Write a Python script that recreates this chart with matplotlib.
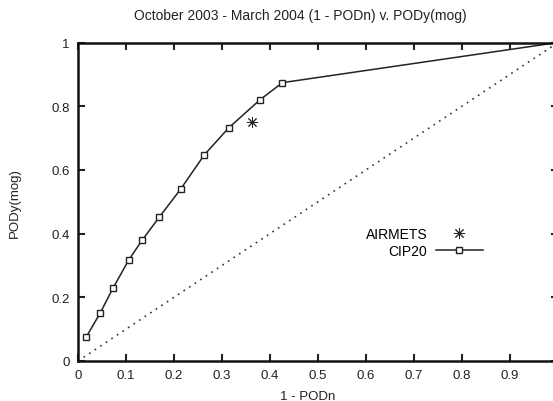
import matplotlib
matplotlib.use("Agg")
import matplotlib.pyplot as plt

plt.rcParams['font.family'] = ['Liberation Sans', 'DejaVu Sans']

# CIP20 curve (1 - PODn, PODy(mog))
cip20_x = [0.017, 0.046, 0.073, 0.106, 0.134, 0.169, 0.214, 0.263, 0.314, 0.379, 0.426, 1.0]
cip20_y = [0.075, 0.150, 0.229, 0.318, 0.380, 0.451, 0.540, 0.647, 0.732, 0.820, 0.874, 1.0]

# AIRMETS single point
airmets_x = [0.363]
airmets_y = [0.751]

# no-skill diagonal
diag = [0, 1]

x_ticks = [0, 0.1, 0.2, 0.3, 0.4, 0.5, 0.6, 0.7, 0.8, 0.9, 1.0]
# the "1" label sits past the picture's right edge in the reference
x_tick_labels = ['0', '0.1', '0.2', '0.3', '0.4', '0.5', '0.6', '0.7', '0.8', '0.9', '']
y_ticks = [0, 0.2, 0.4, 0.6, 0.8, 1.0]
y_tick_labels = ['0', '0.2', '0.4', '0.6', '0.8', '1']

fig = plt.figure(figsize=(5.53, 4.02), dpi=100)
# axes run slightly past the right edge of the picture, as in the reference
ax = fig.add_axes([78 / 553, 1 - 362 / 402, 480 / 553, 318.5 / 402])

ax.plot(diag, diag, color='#333333', linestyle=(0, (1, 3)), linewidth=1.2)
ax.plot(airmets_x, airmets_y, linestyle='none', marker=(8, 2, 0), markersize=8,
        color='#222222', markeredgewidth=0.7, label='AIRMETS')
ax.plot(cip20_x, cip20_y, color='#222222', linewidth=1.1, marker='s', markersize=5,
        markerfacecolor='white', markeredgecolor='#222222', markeredgewidth=1.0,
        label='CIP20', clip_on=False)

ax.set_xlim(0, 1)
ax.set_ylim(0, 1)
ax.set_xticks(x_ticks)
ax.set_xticklabels(x_tick_labels)
ax.set_yticks(y_ticks)
ax.set_yticklabels(y_tick_labels)
ax.tick_params(direction='in', length=5, width=1.5, top=True, right=True,
               labelsize=9.5, colors='#222222', pad=6)
for s in ax.spines.values():
    s.set_linewidth(1.8)
    s.set_color('#111111')

ax.set_xlabel('1 - PODn', fontsize=9.5, color='#222222')
ax.xaxis.set_label_coords((308 - 78) / 480, -0.09)
ax.set_ylabel('PODy(mog)', fontsize=9.5, color='#222222')
ax.yaxis.set_label_coords(-(78 - 21) / 480, 0.5)

fig.text(300 / 553, 1 - 16 / 402, 'October 2003 - March 2004 (1 - PODn) v. PODy(mog)',
         ha='center', va='center', fontsize=10, color='#222222')

ax.legend(loc='upper right', bbox_to_anchor=((483 - 78) / 480, (362 - 228) / 318.5),
          markerfirst=False, frameon=False, fontsize=10, handlelength=3.4,
          handletextpad=0.6, labelspacing=0.22, borderpad=0, borderaxespad=0)

fig.savefig('out.png', dpi=100)
